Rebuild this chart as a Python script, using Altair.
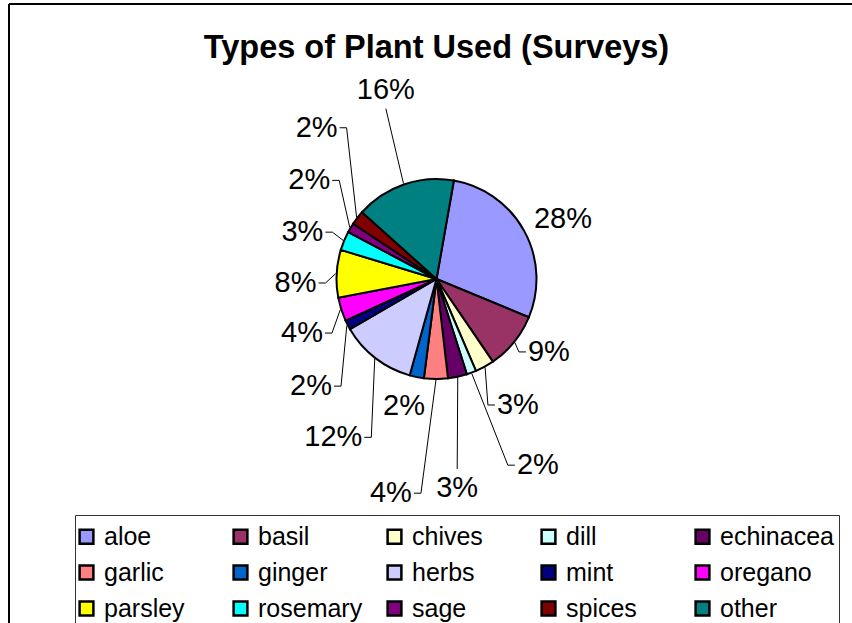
import math
import altair as alt
import pandas as pd

# Survey answers: how many respondents used each type of plant
plants = ["aloe", "basil", "chives", "dill", "echinacea", "garlic", "ginger",
          "herbs", "mint", "oregano", "parsley", "rosemary", "sage", "spices", "other"]
counts = [37, 12, 4, 2, 4, 5, 3, 16, 2, 5, 10, 4, 2, 3, 21]

# Classic spreadsheet palette, one colour per plant
colors = ["#9999FF", "#993366", "#FFFFCC", "#CCFFFF", "#660066", "#FF8080", "#0066CC",
          "#CCCCFF", "#000080", "#FF00FF", "#FFFF00", "#00FFFF", "#800080", "#800000", "#008080"]

# Label placement: distance from the pie centre (px) and turn away from the slice middle (deg)
label_radius = [140, 134, 150, 212, 210, 219, 131, 189, 165, 145, 141, 142, 161, 193, 196]
label_turn = [3.3, -6.1, -4.1, -8.1, 6.5, 11.7, 3.0, -4.6, -13.1, -4.2, -4.7, -3.2, 7.0, 13.9, 4.1]
leader = ["none", "side", "side", "side", "vert", "side", "none", "side",
          "side", "side", "side", "side", "side", "side", "vert"]

W, H = 852, 623
CX, CY, R = 436.5, 279, 100
START = math.radians(10)
FONT = "Liberation Sans"

df = pd.DataFrame({
    "plant": plants,
    "count": counts,
    "order": list(range(len(plants))),
    "lr": label_radius,
    "turn": label_turn,
    "leader": leader,
})

base = (
    alt.Chart(df)
    .transform_joinaggregate(total="sum(count)")
    .transform_window(cum="sum(count)", sort=[alt.SortField("order")], frame=[None, 0])
    .transform_calculate(
        a0=f"{START} + 2*PI*(datum.cum - datum.count)/datum.total",
        a1=f"{START} + 2*PI*datum.cum/datum.total",
    )
    .transform_calculate(
        am="(datum.a0 + datum.a1)/2",
        pct="format(datum.count/datum.total, '.0%')",
    )
    .transform_calculate(
        la="datum.am + datum.turn*PI/180",
        px=f"{CX} + {R + 1}*sin(datum.am)",
        py=f"{CY} - {R + 1}*cos(datum.am)",
        hw="8*(length(datum.pct) - 1) + 13",
    )
    .transform_calculate(
        lx=f"{CX} + datum.lr*sin(datum.la)",
        ly=f"{CY} - datum.lr*cos(datum.la)",
    )
    .transform_calculate(
        dirx="datum.lx > datum.px ? 1 : -1",
        diry="datum.ly > datum.py ? 1 : -1",
    )
    .transform_calculate(
        sx="datum.leader == 'side' ? datum.lx - datum.dirx*(datum.hw + 2) : datum.lx",
        sy="datum.leader == 'side' ? datum.ly : datum.ly - datum.diry*19",
    )
    .transform_calculate(
        qx="datum.leader == 'side' ? datum.sx - datum.dirx*7 : datum.sx",
        qy="datum.sy",
    )
)

pie = base.mark_arc(outerRadius=R, stroke="black", strokeWidth=2).encode(
    theta=alt.Theta("a0:Q", scale=None),
    theta2=alt.Theta2("a1:Q"),
    x=alt.value(CX),
    y=alt.value(CY),
    color=alt.Color(
        "plant:N",
        scale=alt.Scale(domain=plants, range=colors),
        sort=plants,
        legend=alt.Legend(
            title=None,
            orient="none",
            legendX=74,
            legendY=524,
            direction="horizontal",
            columns=5,
            gridAlign="all",
            columnPadding=10,
            rowPadding=10,
            symbolType="square",
            symbolSize=190,
            symbolStrokeColor="black",
            symbolStrokeWidth=2.5,
            symbolOpacity=1,
            labelFont=FONT,
            labelFontSize=25,
            labelColor="black",
            labelOffset=5,
            labelLimit=300,
        ),
    ),
)

leaders = base.transform_filter("datum.leader != 'none'")

leader_a = leaders.mark_rule(color="black", strokeWidth=1).encode(
    x=alt.X("px:Q", scale=None, axis=None),
    y=alt.Y("py:Q", scale=None, axis=None),
    x2="qx:Q",
    y2="qy:Q",
)
leader_b = leaders.mark_rule(color="black", strokeWidth=1).encode(
    x=alt.X("qx:Q", scale=None, axis=None),
    y=alt.Y("qy:Q", scale=None, axis=None),
    x2="sx:Q",
    y2="sy:Q",
)

labels = base.mark_text(font=FONT, fontSize=29, color="black",
                        align="center", baseline="middle").encode(
    x=alt.X("lx:Q", scale=None, axis=None),
    y=alt.Y("ly:Q", scale=None, axis=None),
    text="pct:N",
)

one = alt.Data(values=[{}])

title = alt.Chart(one).mark_text(
    text="Types of Plant Used (Surveys)", font=FONT, fontSize=32.5,
    fontWeight="bold", color="black", align="center", baseline="alphabetic",
).encode(x=alt.value(CX), y=alt.value(58))

# Outer chart frame (top and left edges) and the legend box
frame_top = alt.Chart(one).mark_rule(color="black", strokeWidth=2).encode(
    x=alt.value(9), x2=alt.value(W), y=alt.value(4))
frame_left = alt.Chart(one).mark_rule(color="black", strokeWidth=2).encode(
    x=alt.value(9), y=alt.value(4), y2=alt.value(H))
box_top = alt.Chart(one).mark_rule(color="#333333", strokeWidth=1).encode(
    x=alt.value(75.5), x2=alt.value(839.5), y=alt.value(515.5))
box_left = alt.Chart(one).mark_rule(color="#333333", strokeWidth=1).encode(
    x=alt.value(75.5), y=alt.value(515.5), y2=alt.value(H))
box_right = alt.Chart(one).mark_rule(color="#333333", strokeWidth=1).encode(
    x=alt.value(839.5), y=alt.value(515.5), y2=alt.value(H))

chart = (
    alt.layer(frame_top, frame_left, box_top, box_left, box_right,
              pie, leader_a, leader_b, labels, title)
    .properties(width=W, height=H, autosize=alt.AutoSizeParams(type="none"),
                padding=0, background="white")
    .configure_view(stroke=None)
)

chart.save("out.html", embed_options={"renderer": "svg", "actions": False})
